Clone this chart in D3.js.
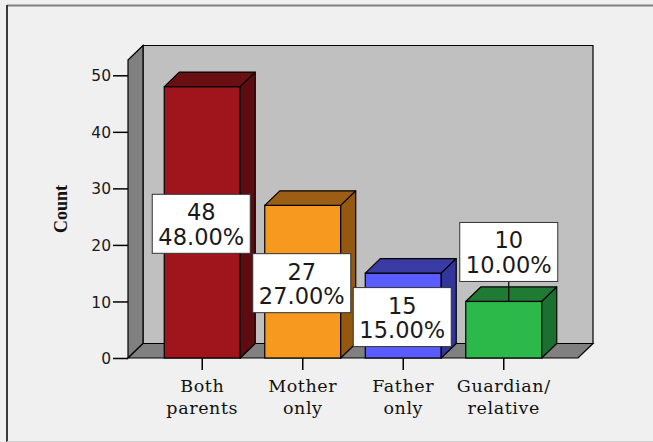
<!DOCTYPE html>
<html>
<head>
<meta charset="utf-8">
<script src="https://cdn.jsdelivr.net/npm/d3@7"></script>
<style>
  html, body { margin: 0; padding: 0; background: #f0f0f0; }
  svg { display: block; }
</style>
</head>
<body>
<svg id="chart" width="653" height="442"></svg>
<script>
// Household composition: counts and percentages per category
const categories = ["Both parents", "Mother only", "Father only", "Guardian/relative"];
const categoryLines = [["Both", "parents"], ["Mother", "only"], ["Father", "only"], ["Guardian/", "relative"]];
const counts = [48, 27, 15, 10];
const percents = [48.00, 27.00, 15.00, 10.00];
const yTicks = [0, 10, 20, 30, 40, 50];

// face colours: front, top, side
const frontColors = ["#a0151b", "#f7991f", "#5b5cff", "#2db84a"];
const topColors   = ["#6a0f12", "#9c5e14", "#3a3ba5", "#1f7a33"];
const sideColors  = ["#5e0c10", "#94590f", "#34359a", "#1b7030"];

const W = 653, H = 442;
const svg = d3.select("#chart");

// panel background + frame
svg.append("rect").attr("width", W).attr("height", H).attr("fill", "#f0f0f0");
svg.append("line").attr("x1", 7).attr("x2", W).attr("y1", 5.5).attr("y2", 5.5)
   .attr("stroke", "#808080").attr("stroke-width", 2);
svg.append("line").attr("x1", 7).attr("x2", 7).attr("y1", 5).attr("y2", H)
   .attr("stroke", "#3a3a3a").attr("stroke-width", 2);
svg.append("line").attr("x1", 7).attr("x2", W).attr("y1", 441.5).attr("y2", 441.5)
   .attr("stroke", "#d0d0d0").attr("stroke-width", 1);

// scales
const y = d3.scaleLinear().domain([0, 50]).range([358, 75.3]);
const x = d3.scaleBand().domain(categories).range([152, 554])
  .paddingInner(0.244).paddingOuter(0.122);

// 3D depth offset
const dx = 15, dy = -14.5;
const y0 = y(0);
const axisX = 128;
const wallTop = 60;
const floorRight = 578;

const g = svg.append("g");
const poly = pts => pts.map(p => p.join(",")).join(" ");

// back wall
g.append("polygon")
  .attr("points", poly([[axisX + dx, wallTop + dy], [floorRight + dx, wallTop + dy],
                        [floorRight + dx, y0 + dy], [axisX + dx, y0 + dy]]))
  .attr("fill", "#c0c0c0").attr("stroke", "#000").attr("stroke-width", 1.2);
// side wall
g.append("polygon")
  .attr("points", poly([[axisX, wallTop], [axisX + dx, wallTop + dy],
                        [axisX + dx, y0 + dy], [axisX, y0]]))
  .attr("fill", "#808080").attr("stroke", "#000").attr("stroke-width", 1.2);
// floor
g.append("polygon")
  .attr("points", poly([[axisX, y0], [axisX + dx, y0 + dy],
                        [floorRight + dx, y0 + dy], [floorRight, y0]]))
  .attr("fill", "#808080").attr("stroke", "#000").attr("stroke-width", 1.2);

// bars
const bw = x.bandwidth();
categories.forEach((c, i) => {
  const bx = x(c), yt = y(counts[i]);
  const bar = g.append("g");
  bar.append("rect").attr("x", bx).attr("y", yt).attr("width", bw).attr("height", y0 - yt)
    .attr("fill", frontColors[i]).attr("stroke", "#000").attr("stroke-width", 1.2);
  bar.append("polygon")
    .attr("points", poly([[bx, yt], [bx + dx, yt + dy], [bx + bw + dx, yt + dy], [bx + bw, yt]]))
    .attr("fill", topColors[i]).attr("stroke", "#000").attr("stroke-width", 1.2)
    .attr("stroke-linejoin", "round");
  bar.append("polygon")
    .attr("points", poly([[bx + bw, yt], [bx + bw + dx, yt + dy], [bx + bw + dx, y0 + dy], [bx + bw, y0]]))
    .attr("fill", sideColors[i]).attr("stroke", "#000").attr("stroke-width", 1.2)
    .attr("stroke-linejoin", "round");
});

// y axis
const yAxis = d3.axisLeft(y).tickValues(yTicks).tickSize(15).tickPadding(2).tickFormat(d3.format("d"));
const ya = svg.append("g").attr("transform", `translate(${axisX},0)`).call(yAxis);
ya.select(".domain").remove();
ya.selectAll(".tick line").attr("stroke", "#000").attr("stroke-width", 1.5);
ya.selectAll(".tick text").attr("font-family", "DejaVu Sans").attr("font-size", 15.5)
  .attr("fill", "#1a1a1a").attr("dy", "0.36em");

// x axis ticks + category labels
const xa = svg.append("g");
categories.forEach((c, i) => {
  const cx = x(c) + bw / 2;
  xa.append("line").attr("x1", cx).attr("x2", cx).attr("y1", y0).attr("y2", y0 + 12)
    .attr("stroke", "#000").attr("stroke-width", 1.5);
  const t = xa.append("text").attr("x", cx).attr("text-anchor", "middle")
    .attr("font-family", "DejaVu Serif").attr("font-size", 17.5)
    .attr("letter-spacing", 0.6).attr("fill", "#111");
  categoryLines[i].forEach((ln, k) => {
    t.append("tspan").attr("x", cx).attr("y", 392 + k * 21.5).text(ln);
  });
});

// axis title
svg.append("text")
  .attr("transform", "translate(67,209) rotate(-90)")
  .attr("text-anchor", "middle")
  .attr("font-family", "Liberation Serif").attr("font-weight", "bold").attr("font-size", 18)
  .attr("fill", "#111").text("Count");

// value labels
const boxW = 98, boxH = 59;
categories.forEach((c, i) => {
  const cx = x(c) + bw / 2;
  const yt = y(counts[i]);
  const inside = (y0 - yt) > boxH;
  let bcx, btop;
  if (inside) {
    bcx = cx - 1;
    btop = (yt + y0) / 2 + 1.5 - boxH / 2;
  } else {
    bcx = cx + 5;
    btop = yt - 20 - boxH;
    svg.append("line").attr("x1", bcx).attr("x2", bcx).attr("y1", btop + boxH).attr("y2", yt)
      .attr("stroke", "#000").attr("stroke-width", 1.2);
  }
  svg.append("rect").attr("x", bcx - boxW / 2).attr("y", btop).attr("width", boxW).attr("height", boxH)
    .attr("fill", "#fff").attr("stroke", "#333").attr("stroke-width", 1);
  const t = svg.append("text").attr("text-anchor", "middle")
    .attr("font-family", "DejaVu Sans").attr("font-size", 22.5).attr("fill", "#1a1a1a");
  t.append("tspan").attr("x", bcx).attr("y", btop + 26).text(counts[i]);
  t.append("tspan").attr("x", bcx).attr("y", btop + 50.5).text(percents[i].toFixed(2) + "%");
});
</script>
</body>
</html>
